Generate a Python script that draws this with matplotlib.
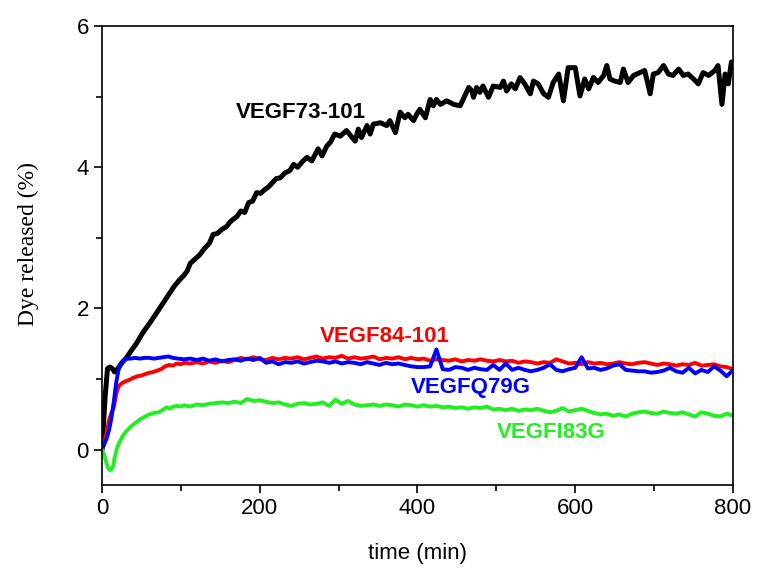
import matplotlib
matplotlib.use("Agg")
import matplotlib.pyplot as plt
from matplotlib.ticker import MultipleLocator

# ---------------- data ----------------
t_black = [0, 4, 7, 10, 13, 16, 19, 22, 26, 31, 37, 44, 52, 61, 67, 73, 80, 86, 92, 98,
           104, 108, 112, 118, 124, 130, 136, 141, 146, 152, 158, 162, 166, 171, 176, 181,
           186, 191, 196, 201, 206, 211, 216, 221, 226, 232, 238, 243, 248, 255, 260, 266,
           274, 279, 285, 290, 295, 302, 310, 315, 321, 325, 329, 336, 340, 344, 353, 361,
           365, 372, 378, 384, 388, 395, 399, 403, 410, 416, 420, 424, 429, 437, 446, 454,
           460, 465, 469, 471, 475, 479, 483, 490, 496, 505, 509, 513, 519, 524, 530, 536,
           543, 547, 553, 560, 566, 572, 579, 585, 591, 600, 606, 612, 617, 623, 629, 636,
           640, 644, 650, 657, 661, 667, 674, 682, 688, 695, 699, 705, 712, 718, 724, 731,
           737, 743, 750, 756, 762, 769, 777, 781, 786, 790, 794, 798, 800]
y_black = [0.00, 0.75, 1.15, 1.17, 1.15, 1.10, 1.13, 1.18, 1.24, 1.30, 1.40, 1.51, 1.66, 1.80,
           1.90, 2.00, 2.12, 2.22, 2.32, 2.40, 2.47, 2.53, 2.64, 2.70, 2.76, 2.85, 2.92, 3.05,
           3.06, 3.12, 3.16, 3.22, 3.26, 3.30, 3.38, 3.36, 3.50, 3.52, 3.64, 3.63, 3.68, 3.72,
           3.78, 3.84, 3.85, 3.92, 3.95, 4.04, 4.00, 4.09, 4.14, 4.09, 4.26, 4.16, 4.30, 4.36,
           4.47, 4.44, 4.52, 4.45, 4.37, 4.54, 4.42, 4.59, 4.47, 4.61, 4.63, 4.59, 4.66, 4.49,
           4.78, 4.70, 4.75, 4.66, 4.75, 4.82, 4.70, 4.96, 4.87, 4.96, 4.89, 4.94, 4.89, 4.87,
           5.01, 5.13, 5.08, 4.99, 5.13, 5.06, 5.15, 4.99, 5.15, 5.13, 5.22, 5.08, 5.18, 5.11,
           5.27, 5.18, 5.04, 5.22, 5.18, 5.04, 4.99, 5.20, 5.32, 4.94, 5.41, 5.41, 5.01, 5.25,
           5.11, 5.27, 5.20, 5.30, 5.44, 5.25, 5.22, 5.20, 5.39, 5.20, 5.30, 5.34, 5.37, 5.04,
           5.32, 5.34, 5.44, 5.32, 5.30, 5.39, 5.30, 5.32, 5.25, 5.18, 5.34, 5.30, 5.37, 5.44,
           4.89, 5.32, 5.18, 5.49, 5.45]

t_red = [0, 3, 6, 9, 12, 15, 18, 21, 25, 30, 35, 40, 45, 50, 55, 60, 65, 70, 75, 80, 85, 90,
         95, 100] + list(range(104, 801, 8))
y_red = [0.00, 0.10, 0.25, 0.42, 0.52, 0.60, 0.78, 0.90, 0.94, 0.97, 0.99, 1.02, 1.04, 1.05,
         1.07, 1.09, 1.10, 1.12, 1.14, 1.18, 1.20, 1.19, 1.22, 1.21,
         1.23, 1.22, 1.24, 1.22, 1.25, 1.23, 1.26, 1.24, 1.27, 1.30, 1.28, 1.31, 1.28,
         1.27, 1.30, 1.28, 1.30, 1.29, 1.31, 1.28, 1.30, 1.32, 1.29, 1.31, 1.30,
         1.33, 1.29, 1.31, 1.29, 1.30, 1.32, 1.28, 1.30, 1.29, 1.31, 1.28, 1.30, 1.28,
         1.29, 1.26, 1.28, 1.27, 1.26, 1.28, 1.25, 1.27, 1.26, 1.28, 1.26, 1.25,
         1.27, 1.25, 1.26, 1.23, 1.25, 1.24, 1.22, 1.24, 1.23, 1.28, 1.25, 1.22, 1.23,
         1.21, 1.24, 1.22, 1.23, 1.21, 1.22, 1.24, 1.22, 1.21, 1.23, 1.24, 1.22,
         1.20, 1.22, 1.21, 1.19, 1.21, 1.20, 1.23, 1.19, 1.20, 1.21, 1.18, 1.17, 1.14]

t_blue = [0, 3, 6, 9, 12, 15, 18, 21, 24, 27, 31, 36, 42, 48, 54, 60, 66, 72, 78, 84, 90,
          96] + list(range(104, 801, 8))
y_blue = [0.00, 0.08, 0.16, 0.28, 0.45, 0.68, 0.95, 1.13, 1.22, 1.26, 1.29, 1.29, 1.30, 1.29,
          1.30, 1.30, 1.29, 1.30, 1.31, 1.32, 1.30, 1.29,
          1.28, 1.29, 1.27, 1.29, 1.26, 1.28, 1.25, 1.27, 1.28, 1.26, 1.29, 1.27, 1.30,
          1.23, 1.25, 1.21, 1.24, 1.23, 1.25, 1.22, 1.24, 1.26, 1.25, 1.23, 1.25,
          1.22, 1.24, 1.23, 1.21, 1.24, 1.22, 1.20, 1.23, 1.21, 1.22, 1.20, 1.18, 1.17,
          1.17, 1.18, 1.42, 1.14, 1.13, 1.17, 1.16, 1.13, 1.16, 1.14, 1.13, 1.20,
          1.13, 1.22, 1.13, 1.16, 1.13, 1.11, 1.13, 1.16, 1.21, 1.13, 1.11, 1.14, 1.16,
          1.31, 1.15, 1.16, 1.13, 1.15, 1.19, 1.21, 1.13, 1.12, 1.11, 1.11, 1.09,
          1.10, 1.12, 1.16, 1.11, 1.09, 1.16, 1.08, 1.13, 1.10, 1.18, 1.12, 1.04, 1.13]

t_green = [0, 2, 4, 6, 8, 10, 12, 14, 16, 18, 20, 23, 26, 30, 35, 40, 45, 50, 55, 60, 66, 72,
           78, 82, 86, 90, 96, 100] + list(range(104, 801, 8))
y_green = [0.00, -0.05, -0.12, -0.20, -0.26, -0.29, -0.28, -0.24, -0.12, -0.02, 0.05, 0.12,
           0.19, 0.25, 0.31, 0.36, 0.40, 0.44, 0.47, 0.50, 0.52, 0.53, 0.57, 0.60, 0.58,
           0.61, 0.62, 0.61,
           0.63, 0.61, 0.64, 0.63, 0.65, 0.66, 0.67, 0.66, 0.68, 0.66, 0.72, 0.69, 0.70,
           0.68, 0.66, 0.67, 0.64, 0.62, 0.65, 0.66, 0.64, 0.65, 0.67, 0.62, 0.71,
           0.65, 0.69, 0.64, 0.62, 0.63, 0.64, 0.62, 0.64, 0.63, 0.61, 0.64, 0.63, 0.61,
           0.63, 0.61, 0.62, 0.60, 0.61, 0.59, 0.60, 0.58, 0.60, 0.59, 0.61, 0.57,
           0.58, 0.56, 0.58, 0.55, 0.57, 0.56, 0.58, 0.55, 0.53, 0.55, 0.59, 0.54, 0.56,
           0.58, 0.55, 0.52, 0.50, 0.51, 0.48, 0.50, 0.47, 0.51, 0.53, 0.54, 0.52,
           0.51, 0.54, 0.52, 0.51, 0.53, 0.50, 0.47, 0.53, 0.51, 0.48, 0.47, 0.51, 0.48]

labels = ["VEGF73-101", "VEGF84-101", "VEGFQ79G", "VEGFI83G"]
label_x = [252, 359, 468, 569]
label_y = [4.78, 1.60, 0.88, 0.24]
colors = ["#000000", "#ff0000", "#0000ff", "#22ee22"]
x_ticks = [0, 200, 400, 600, 800]
y_ticks = [0, 2, 4, 6]

# ---------------- plot ----------------
sans = ["Liberation Sans", "DejaVu Sans"]
serif = ["Liberation Serif", "DejaVu Serif"]

fig = plt.figure(figsize=(7.69, 5.83), dpi=100)
ax = fig.add_axes([0.1326, 0.1681, 0.8206, 0.7873])

series = [(t_black, y_black), (t_red, y_red), (t_blue, y_blue), (t_green, y_green)]
widths = [3.6, 2.8, 2.8, 2.8]
for (tt, yy), c, w in zip(series, colors, widths):
    ax.plot(tt, yy, color=c, lw=w, solid_joinstyle="round", solid_capstyle="round")

for lab, lx, ly, c in zip(labels, label_x, label_y, colors):
    ax.text(lx, ly, lab, color=c, fontsize=16, fontweight="bold", family=sans,
            ha="center", va="center")

ax.set_xlim(0, 800)
ax.set_ylim(-0.5, 6)
ax.set_xticks(x_ticks)
ax.set_yticks(y_ticks)
ax.xaxis.set_minor_locator(MultipleLocator(100))
ax.yaxis.set_minor_locator(MultipleLocator(1))
ax.tick_params(which="major", direction="out", length=6, width=1.2, labelsize=16,
               top=False, right=False)
ax.tick_params(which="minor", direction="out", length=4, width=1.2, top=False, right=False)
for lab in ax.get_xticklabels() + ax.get_yticklabels():
    lab.set_family(sans)
for sp in ax.spines.values():
    sp.set_linewidth(1.2)

ax.set_xlabel("time (min)", fontsize=16, family=sans, labelpad=17)
ax.set_ylabel("Dye released (%)", fontsize=17, family=serif)
ax.yaxis.set_label_coords(-0.099, 0.525)

fig.savefig("out.png", dpi=100)
